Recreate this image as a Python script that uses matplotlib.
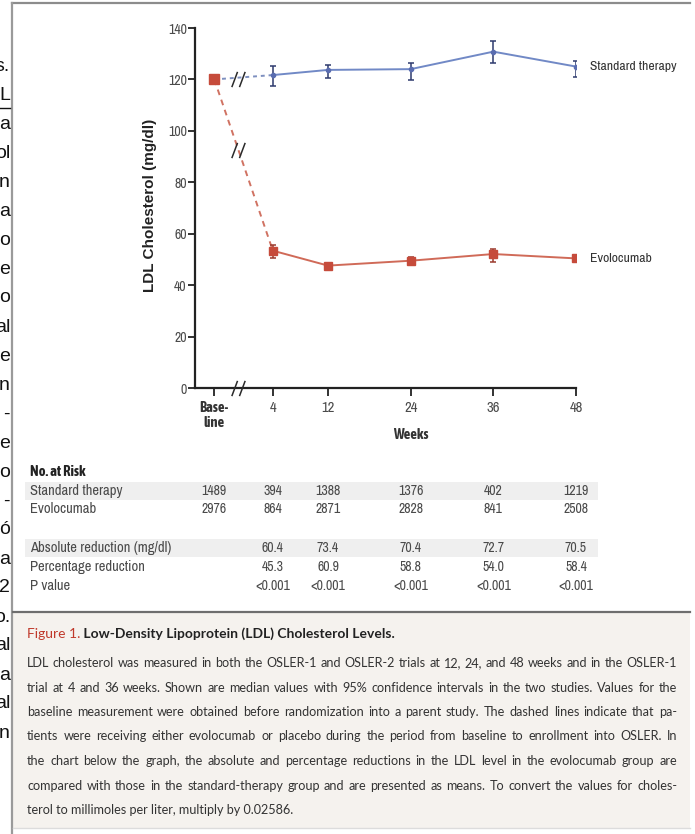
import numpy as np
import matplotlib.pyplot as plt
from matplotlib import font_manager
from matplotlib.patches import Rectangle
from matplotlib.path import Path
from matplotlib.transforms import blended_transform_factory

# pick a narrow sans face (with a bold cut if possible)
fonts = font_manager.fontManager.ttflist
weights = {}
for f in fonts:
    w = f.weight if isinstance(f.weight, int) else font_manager.weight_dict.get(f.weight, 400)
    weights.setdefault(f.name, set()).add(w)
narrow_names = sorted(n for n in weights if 'Narrow' in n or 'Condensed' in n)
with_bold = [n for n in narrow_names if max(weights[n]) >= 600]
if 'Liberation Sans Narrow' in weights:
    narrow = 'Liberation Sans Narrow'
elif narrow_names:
    narrow = narrow_names[0]
else:
    narrow = 'DejaVu Sans'
if narrow in with_bold:
    narrow_bold = narrow
elif with_bold:
    narrow_bold = with_bold[0]
else:
    narrow_bold = 'Liberation Sans'
body = 'Lato' if 'Lato' in weights else 'Liberation Sans'
plt.rcParams['font.family'] = [narrow, 'DejaVu Sans']
plt.rcParams['font.stretch'] = 'condensed'

# LDL values (mg/dl), medians with 95% CI
baseline_x = -4.5
baseline_ldl = 120
weeks = [4, 12, 24, 36, 48]
std_ldl = [121.7, 123.7, 124.0, 130.8, 125.0]
std_lo = [117.4, 120.4, 119.8, 126.5, 121.0]
std_hi = [125.3, 125.8, 126.4, 135.1, 127.0]
evo_ldl = [53.4, 47.6, 49.5, 52.1, 50.4]
evo_lo = [50.4, 46.5, 48.3, 49.1, 49.4]
evo_hi = [55.6, 48.8, 50.8, 53.9, 51.4]
break_x = -1.0

tick_labels = ['Base-\nline', '4', '12', '24', '36', '48']
risk_std = ['1489', '394', '1388', '1376', '402', '1219']
risk_evo = ['2976', '864', '2871', '2828', '841', '2508']
abs_red = ['60.4', '73.4', '70.4', '72.7', '70.5']
pct_red = ['45.3', '60.9', '58.8', '54.0', '58.4']
p_vals = ['<0.001', '<0.001', '<0.001', '<0.001', '<0.001']

caption_head = 'Figure 1.'
caption_title = ' Low-Density Lipoprotein (LDL) Cholesterol Levels.'
caption = [
    'LDL cholesterol was measured in both the OSLER-1 and OSLER-2 trials at 12, 24, and 48 weeks and in the OSLER-1',
    'trial at 4 and 36 weeks. Shown are median values with 95% confidence intervals in the two studies. Values for the',
    'baseline measurement were obtained before randomization into a parent study. The dashed lines indicate that pa-',
    'tients were receiving either evolocumab or placebo during the period from baseline to enrollment into OSLER. In',
    'the chart below the graph, the absolute and percentage reductions in the LDL level in the evolocumab group are',
    'compared with those in the standard-therapy group and are presented as means. To convert the values for choles-',
    'terol to millimoles per liter, multiply by 0.02586.',
]
side_text = ['s.', 'L', 'a', 'ol', 'n', 'a', 'o', 'e', 'o', 'al', 'e', 'n', '-', 'e', 'o', '-',
             'ó', 'a', '2', 'o.', 'al', 'a', 'al', 'n']

dark = '#333333'
grey = '#4a4a4a'
blue = '#7189c6'
navy = '#2e3a6e'
red = '#c64b3b'

fig = plt.figure(figsize=(6.95, 8.34), dpi=100)
W, H = 695, 834
renderer = fig.canvas.get_renderer()

# page layer in pixel units
bg = fig.add_axes([0, 0, 1, 1], zorder=0)
bg.set_xlim(0, W)
bg.set_ylim(H, 0)
bg.axis('off')

bg.add_patch(Rectangle((13, 613), 677, 215, facecolor='#f5f2ee', edgecolor='none'))
bg.plot([12, 690], [3, 3], color='#8c8c8c', lw=1.6)
bg.plot([12, 12], [3, H], color='#9a9a9a', lw=1.6)
bg.plot([13, 690], [612, 612], color='#6e6e6e', lw=1.6)
bg.plot([13, 690], [828, 828], color='#dcdcdc', lw=1.0)

for i, s in enumerate(side_text):
    bg.text(10, 66 + 29 * i, s, ha='right', va='center', fontsize=14,
            family='Liberation Sans', stretch='normal', color='#111111')
bg.plot([0, 10], [108, 108], color='#111111', lw=1.0)

# chart
ax = fig.add_axes([195 / W, 1 - 388 / H, 381 / W, 360 / H], zorder=1)
ax.patch.set_alpha(0)
ax.set_xlim(-7.3, 48)
ax.set_ylim(0, 140)
for side in ['top', 'right']:
    ax.spines[side].set_visible(False)
for side in ['left', 'bottom']:
    ax.spines[side].set_linewidth(1.6)
    ax.spines[side].set_color('#222222')

ax.set_yticks(np.arange(0, 141, 20))
ax.tick_params(axis='y', length=5, width=1.3, color='#222222', labelsize=10,
               labelcolor=grey, pad=1)
xpos = [baseline_x] + weeks
ax.set_xticks(xpos)
ax.set_xticklabels(tick_labels)
ax.tick_params(axis='x', length=6, width=1.3, color='#222222', labelsize=10.5,
               labelcolor=grey, pad=3)
lab0 = ax.get_xticklabels()[0]
lab0.set_fontweight('bold')
lab0.set_family(narrow_bold)
lab0.set_color(dark)
lab0.set_linespacing(1.15)

# dashed run-in segments from baseline to week 4
ax.plot([baseline_x, weeks[0]], [baseline_ldl, std_ldl[0]], ls=(0, (2, 2)), color='#7d8fbf', lw=1.4)
ax.plot([baseline_x, weeks[0]], [baseline_ldl, evo_ldl[0]], ls=(0, (3, 2.5)), color='#d07262', lw=1.4)

std = np.array(std_ldl)
evo = np.array(evo_ldl)
ax.errorbar(weeks, std, yerr=[std - np.array(std_lo), np.array(std_hi) - std],
            color=blue, lw=1.4, marker='o', ms=3, mfc='#5a6db0', mec='#5a6db0',
            ecolor=navy, elinewidth=1.1, capsize=2.2, capthick=1.1, zorder=3)
ax.errorbar(weeks, evo, yerr=[evo - np.array(evo_lo), np.array(evo_hi) - evo],
            color='#d06a58', lw=1.4, marker='s', ms=6, mfc=red, mec=red,
            ecolor='#9b3a2e', elinewidth=1.1, capsize=2.2, capthick=1.1, zorder=3)
ax.plot([baseline_x], [baseline_ldl], 's', ms=6.5, color=red, zorder=4)

# axis-break marks
slashes = Path([(-3.5, -4), (-0.5, 4), (0.5, -4), (3.5, 4)],
               [Path.MOVETO, Path.LINETO, Path.MOVETO, Path.LINETO])
red_break_y = np.interp(break_x, [baseline_x, weeks[0]], [baseline_ldl, evo_ldl[0]])
for yb in [baseline_ldl, red_break_y, 0]:
    ax.plot([break_x], [yb], marker=slashes, ms=11, mew=1.1, mec='#2a2a2a',
            mfc='none', ls='none', clip_on=False, zorder=5)

for name, last in [('Standard therapy', std_ldl[-1]), ('Evolocumab', evo_ldl[-1])]:
    lbl = ax.annotate(name, xy=(weeks[-1], last), xytext=(10, 0),
                      textcoords='offset points', va='center', fontsize=9.8, color=dark)
    # keep the series label inside the page
    ext = lbl.get_window_extent(renderer)
    if ext.x1 > 686:
        lbl.set_fontsize(9.8 * (686 - ext.x0) / ext.width)

bg.text(150, 205, 'LDL Cholesterol (mg/dl)', rotation=90, ha='center', va='center',
        fontsize=11, fontweight='bold', family='Liberation Sans', stretch='normal',
        color='#222222')

tr = blended_transform_factory(ax.transData, bg.transData)
ax.text(24, 435, 'Weeks', transform=tr, ha='center', va='center',
        fontsize=10.5, fontweight='bold', family=narrow_bold, color=dark)

# table under the chart
bg.add_patch(Rectangle((25, 482), 573, 18, facecolor='#efefef', edgecolor='none'))
bg.add_patch(Rectangle((25, 539), 573, 18, facecolor='#efefef', edgecolor='none'))
bg.text(30, 472, 'No. at Risk', va='center', fontsize=10.5, fontweight='bold',
        family=narrow_bold, color='#222222')
rows = [('Standard therapy', 491, xpos, risk_std),
        ('Evolocumab', 509, xpos, risk_evo),
        ('Absolute reduction (mg/dl)', 548, weeks, abs_red),
        ('Percentage reduction', 567, weeks, pct_red),
        ('P value', 586, weeks, p_vals)]
for name, y, xs, vals in rows:
    bg.text(30, y, name, va='center', fontsize=10.5, color=grey)
    for x, v in zip(xs, vals):
        ax.text(x, y, v, transform=tr, ha='center', va='center', fontsize=10, color=grey)

# caption
t1 = bg.text(27, 634, caption_head, va='center', fontsize=10, family=body,
             stretch='normal', color='#c0392b')
bg.annotate(caption_title, xy=(1, 0), xycoords=t1, va='bottom', fontsize=10,
            fontweight='bold', family=body, stretch='normal', color='#222222')

left, right = 27, 677
fs = 10.0
probe = bg.text(0, 0, 'x', fontsize=fs, family=body, stretch='normal')
natural = []
for line in caption[:-1]:
    probe.set_text(line)
    natural.append(probe.get_window_extent(renderer).width)
probe.remove()
fs = min(10.5, fs * (right - left) / max(natural) * 0.985)

for i, line in enumerate(caption):
    y = 663 + 24.5 * i
    kw = dict(va='center', fontsize=fs, family=body, stretch='normal', color=dark)
    if i == len(caption) - 1:
        bg.text(left, y, line, **kw)
        continue
    words = line.split(' ')
    items = [bg.text(0, y, w, **kw) for w in words]
    widths = [t.get_window_extent(renderer).width for t in items]
    gap = (right - left - sum(widths)) / (len(words) - 1)
    x = left
    for t, w in zip(items, widths):
        t.set_x(x)
        x += w + gap

fig.savefig('out.png', dpi=100)
